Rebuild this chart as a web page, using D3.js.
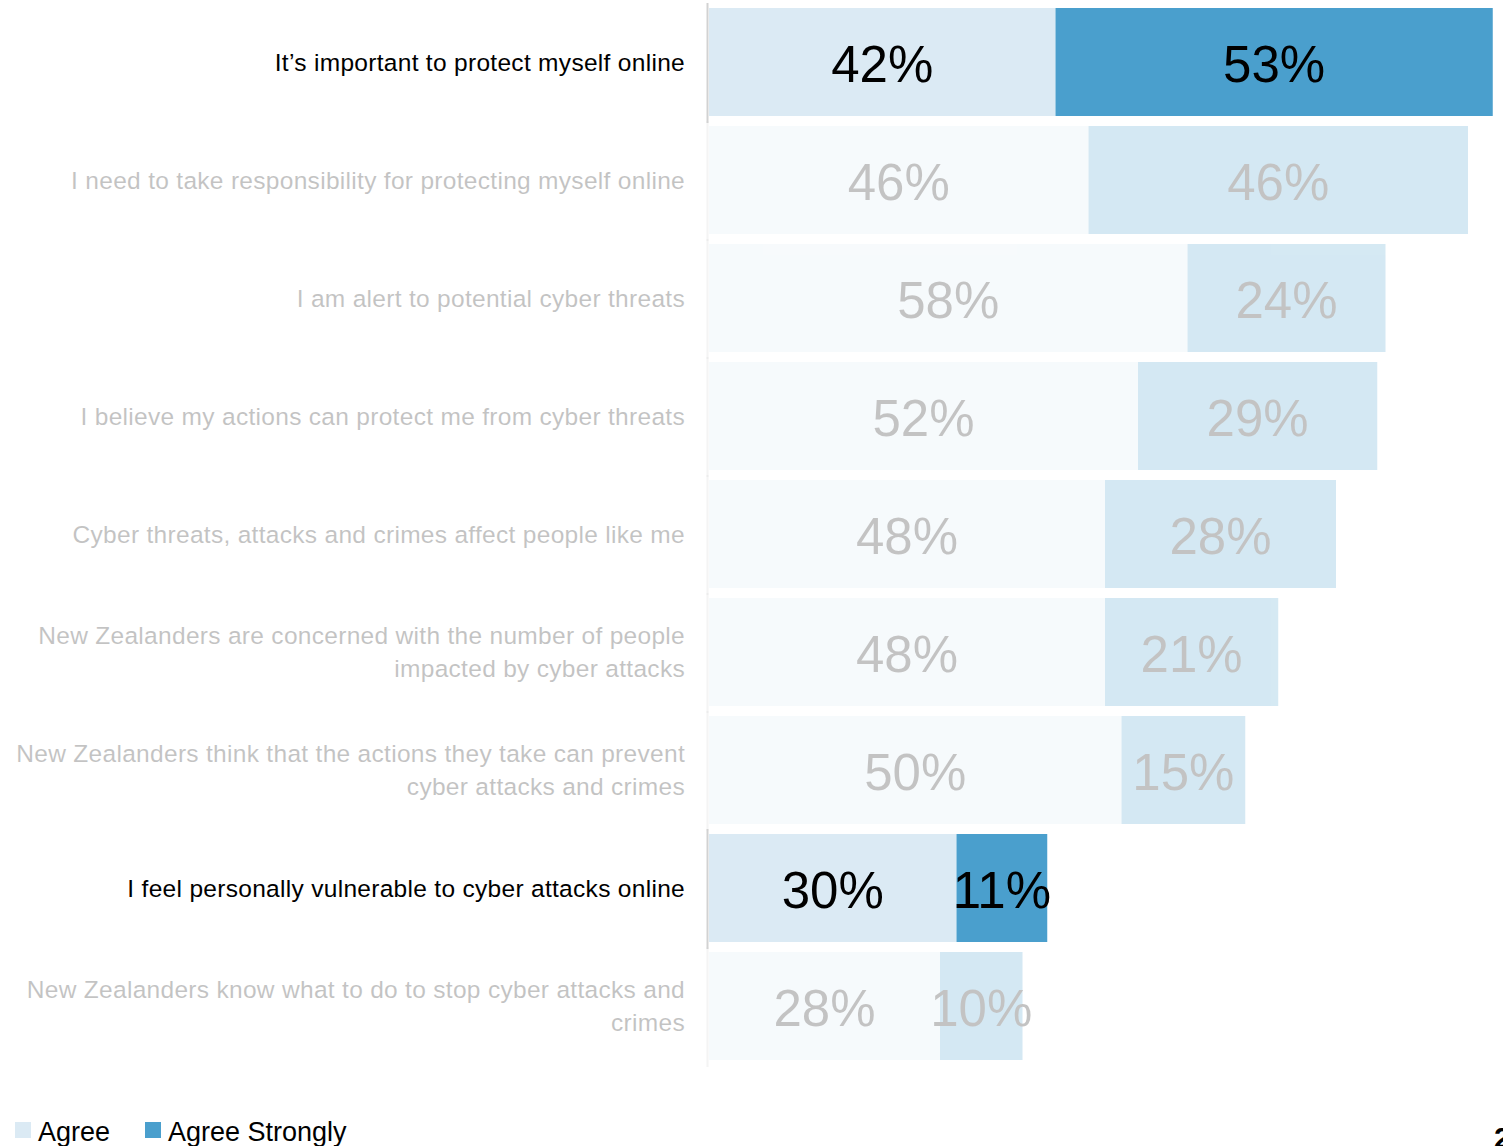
<!DOCTYPE html>
<html>
<head>
<meta charset="utf-8">
<script src="https://cdn.jsdelivr.net/npm/d3@7"></script>
<style>
  html, body { margin: 0; padding: 0; background: #fff; }
  svg { display: block; font-family: "Liberation Sans", Arial, sans-serif; }
</style>
</head>
<body>
<svg id="chart" width="1503" height="1146"></svg>
<script>
// Survey statements (each entry is a list of wrapped lines)
const categories = [
  ["It\u2019s important to protect myself online"],
  ["I need to take responsibility for protecting myself online"],
  ["I am alert to potential cyber threats"],
  ["I believe my actions can protect me from cyber threats"],
  ["Cyber threats, attacks and crimes affect people like me"],
  ["New Zealanders are concerned with the number of people", "impacted by cyber attacks"],
  ["New Zealanders think that the actions they take can prevent", "cyber attacks and crimes"],
  ["I feel personally vulnerable to cyber attacks online"],
  ["New Zealanders know what to do to stop cyber attacks and", "crimes"]
];
const agree         = [42, 46, 58, 52, 48, 48, 50, 30, 28];
const agreeStrongly = [53, 46, 24, 29, 28, 21, 15, 11, 10];
// Statements that are emphasised; the rest are shown muted
const highlighted   = [true, false, false, false, false, false, false, true, false];
const seriesNames   = ["Agree", "Agree Strongly"];

const colors = { "Agree": "#dbeaf4", "Agree Strongly": "#4a9fcd" };
const mutedOpacity = 0.23;

const svg = d3.select("#chart");

const rows = categories.map((lines, i) => ({
  key: i,
  lines,
  agree: agree[i],
  strong: agreeStrongly[i],
  on: highlighted[i]
}));

const x = d3.scaleLinear().domain([0, 100]).range([709, 709 + 825]);
const y = d3.scaleBand()
  .domain(rows.map(d => d.key))
  .range([8, 1060])
  .paddingInner(10 / 118)
  .paddingOuter(0);

const g = svg.selectAll("g.row")
  .data(rows)
  .join("g")
  .attr("class", "row")
  .attr("opacity", d => d.on ? 1 : mutedOpacity);

// Axis spine segment for each row
g.append("line")
  .attr("x1", 707.5).attr("x2", 707.5)
  .attr("y1", d => y(d.key) - 5)
  .attr("y2", d => y(d.key) + y.bandwidth() + 7)
  .attr("stroke", "#d2d2d2")
  .attr("stroke-width", 2);

// Stacked segments
g.append("rect")
  .attr("x", x(0))
  .attr("y", d => y(d.key))
  .attr("width", d => x(d.agree) - x(0))
  .attr("height", y.bandwidth())
  .attr("fill", colors["Agree"]);

g.append("rect")
  .attr("x", d => x(d.agree))
  .attr("y", d => y(d.key))
  .attr("width", d => x(d.agree + d.strong) - x(d.agree))
  .attr("height", y.bandwidth())
  .attr("fill", colors["Agree Strongly"]);

// Value labels centred in each segment
const valueFont = 51;
g.append("text")
  .attr("x", d => (x(0) + x(d.agree)) / 2)
  .attr("y", d => y(d.key) + y.bandwidth() / 2)
  .attr("dy", "0.4em")
  .attr("text-anchor", "middle")
  .attr("font-size", valueFont)
  .attr("fill", "#000")
  .text(d => d.agree + "%");

g.append("text")
  .attr("x", d => (x(d.agree) + x(d.agree + d.strong)) / 2)
  .attr("y", d => y(d.key) + y.bandwidth() / 2)
  .attr("dy", "0.4em")
  .attr("text-anchor", "middle")
  .attr("font-size", valueFont)
  .attr("fill", "#000")
  .text(d => d.strong + "%");

// Category labels, right aligned against the spine
const lineGap = 33;
g.append("text")
  .attr("text-anchor", "end")
  .attr("font-size", 24.5)
  .attr("letter-spacing", 0.3)
  .attr("fill", "#000")
  .each(function(d) {
    const cy = y(d.key) + y.bandwidth() / 2;
    const n = d.lines.length;
    d3.select(this).selectAll("tspan")
      .data(d.lines)
      .join("tspan")
      .attr("x", 685)
      .attr("y", (l, j) => cy + (j - (n - 1) / 2) * lineGap)
      .attr("dy", "0.35em")
      .text(l => l);
  });

// Legend
const legend = svg.append("g").attr("class", "legend");
const legendX = [15, 145];
seriesNames.forEach((name, i) => {
  legend.append("rect")
    .attr("x", legendX[i]).attr("y", 1122)
    .attr("width", 16).attr("height", 16)
    .attr("fill", colors[name]);
  legend.append("text")
    .attr("x", legendX[i] + 23).attr("y", 1141)
    .attr("font-size", 27)
    .attr("fill", "#000")
    .text(name);
});

// Page number
svg.append("text")
  .attr("x", 1494).attr("y", 1148)
  .attr("font-size", 30)
  .attr("font-weight", "bold")
  .attr("fill", "#000")
  .text("2");
</script>
</body>
</html>
